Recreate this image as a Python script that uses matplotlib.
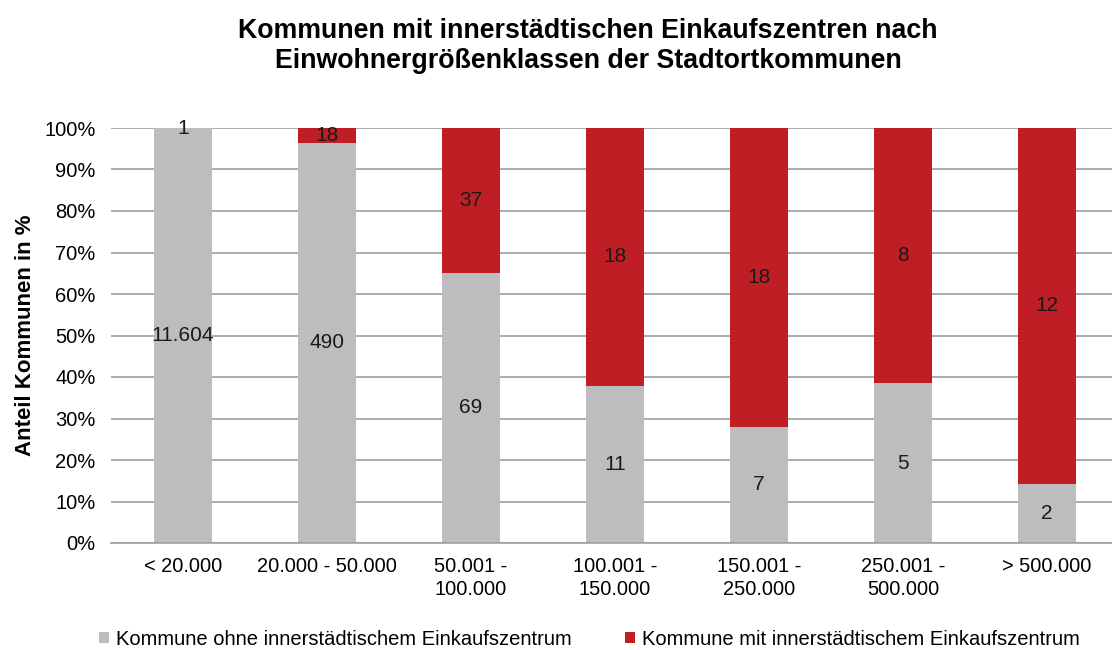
import matplotlib.pyplot as plt
import numpy as np

plt.rcParams['font.family'] = ['Liberation Sans', 'DejaVu Sans']

# Daten: Anzahl Kommunen je Einwohnergrößenklasse
klassen = ['< 20.000', '20.000 - 50.000', '50.001 -\n100.000', '100.001 -\n150.000',
           '150.001 -\n250.000', '250.001 -\n500.000', '> 500.000']
ohne_ez = [11604, 490, 69, 11, 7, 5, 2]
mit_ez = [1, 18, 37, 18, 18, 8, 12]
labels_ohne = ['11.604', '490', '69', '11', '7', '5', '2']
labels_mit = ['1', '18', '37', '18', '18', '8', '12']

grau = '#BDBDBD'
rot = '#BE1E24'

ohne = np.array(ohne_ez, dtype=float)
mit = np.array(mit_ez, dtype=float)
gesamt = ohne + mit
anteil_ohne = ohne / gesamt * 100
anteil_mit = mit / gesamt * 100

fig = plt.figure(figsize=(11.12, 6.5), dpi=100)
ax = fig.add_axes([111 / 1112, 107 / 650, 1001 / 1112, 415 / 650])

x = np.arange(len(klassen))
b1 = ax.bar(x, anteil_ohne, width=0.4, color=grau, zorder=2,
            label='Kommune ohne innerstädtischem Einkaufszentrum')
b2 = ax.bar(x, anteil_mit, width=0.4, bottom=anteil_ohne, color=rot, zorder=2,
            label='Kommune mit innerstädtischem Einkaufszentrum')

for i in range(len(klassen)):
    ax.text(x[i], anteil_ohne[i] / 2, labels_ohne[i], ha='center', va='center',
            fontsize=15, color='#1a1a1a', zorder=3)
    ax.text(x[i], anteil_ohne[i] + anteil_mit[i] / 2, labels_mit[i], ha='center',
            va='center', fontsize=15, color='#1a1a1a', zorder=3)

ax.set_xlim(-0.5, 6.45)
ax.set_ylim(0, 100)
ax.set_yticks(np.arange(0, 101, 10))
ax.set_yticklabels([f'{v}%' for v in range(0, 101, 10)], fontsize=14.5)
ax.set_xticks(x)
ax.set_xticklabels(klassen, fontsize=14.4, linespacing=1.3)
ax.tick_params(axis='y', length=0, pad=11)
ax.tick_params(axis='x', length=0, pad=10)
ax.grid(axis='y', color='#A0A0A0', linewidth=1.2, zorder=0)
for s in ['top', 'right', 'left']:
    ax.spines[s].set_visible(False)
ax.spines['bottom'].set_color('#A0A0A0')
ax.spines['bottom'].set_linewidth(1.2)

ax.set_ylabel('Anteil Kommunen in %', fontsize=16, fontweight='bold', labelpad=6)

fig.suptitle('Kommunen mit innerstädtischen Einkaufszentren nach\nEinwohnergrößenklassen der Stadtortkommunen',
             x=0.529, y=0.973, fontsize=19.3, fontweight='bold', linespacing=1.22)

fig.legend(handles=[b1, b2], loc='lower left', bbox_to_anchor=(0.073, -0.026), ncol=2,
           frameon=False, fontsize=14.5, handlelength=0.5, handleheight=0.5,
           handletextpad=0.35, columnspacing=2.6)

fig.savefig('out.png', dpi=100)
